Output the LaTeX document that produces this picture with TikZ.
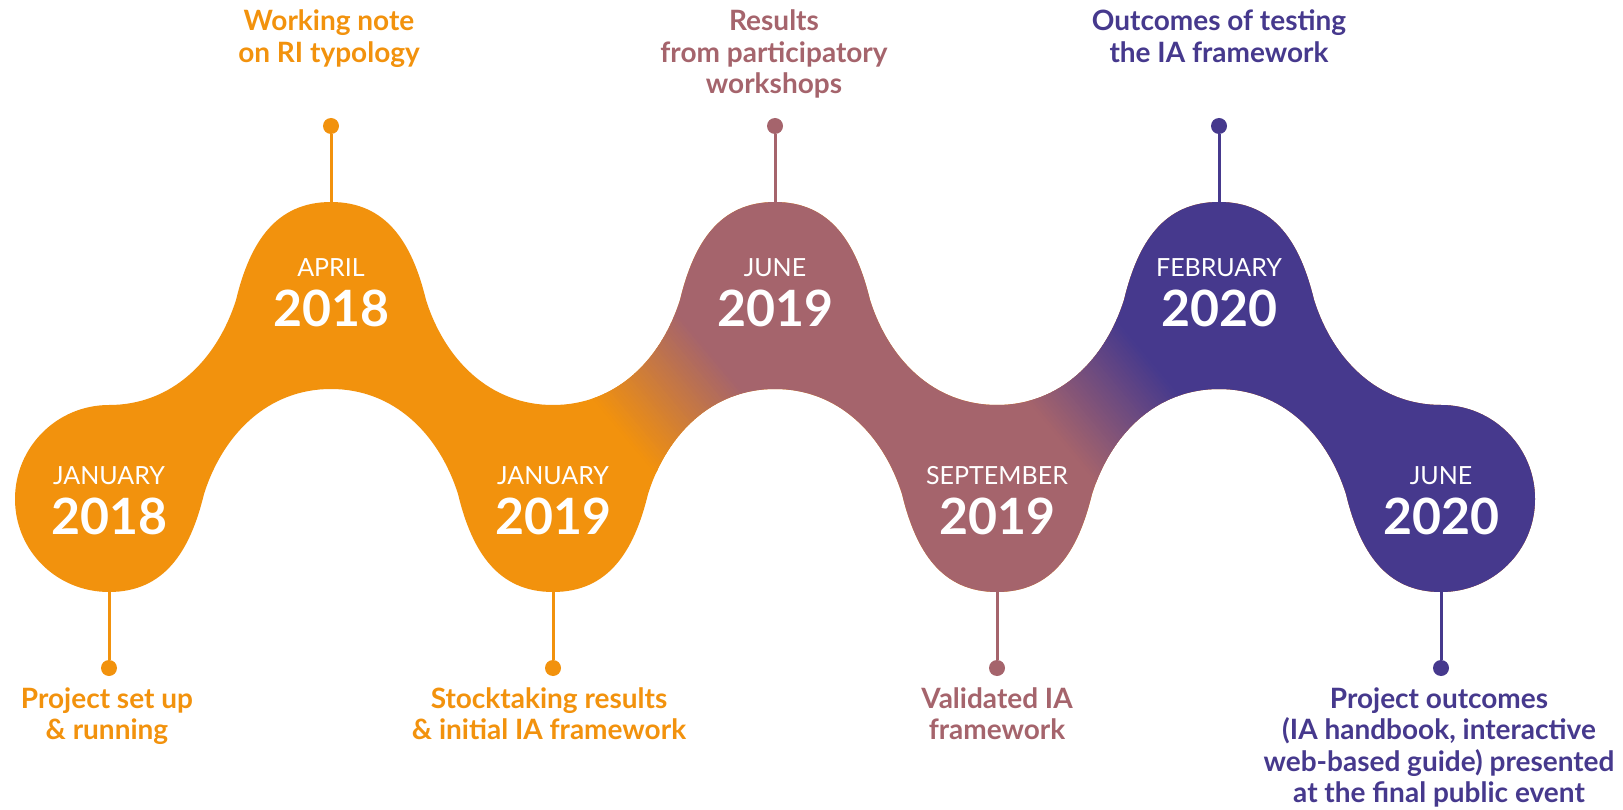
\documentclass[tikz,border=0pt]{standalone}
\usepackage{fontspec}
\setmainfont{Lato}
\definecolor{cO}{HTML}{F2920D}
\definecolor{cM}{HTML}{A5646C}
\definecolor{cI}{HTML}{46398D}
\begin{document}
\begin{tikzpicture}[x=1pt,y=-1pt,
  month/.style={anchor=base, text=white, inner sep=0pt, font=\fontsize{25}{30}\selectfont},
  year/.style={anchor=base, text=white, inner sep=0pt, font=\bfseries\fontsize{50}{60}\selectfont},
  lbl/.style={anchor=base, align=center, inner sep=0pt, font=\bfseries\fontsize{28}{31.5}\selectfont},
  dotnode/.style={circle, inner sep=0pt, minimum size=16pt},
  stemline/.style={line width=3pt}]
\useasboundingbox (0,0) rectangle (1623,810);

% dots and stems
\node[dotnode, fill=cO] (d1) at (109,668) {};
\node[dotnode, fill=cO] (d2) at (331,126) {};
\node[dotnode, fill=cO] (d3) at (553,668) {};
\node[dotnode, fill=cM] (d4) at (775,126) {};
\node[dotnode, fill=cM] (d5) at (997,668) {};
\node[dotnode, fill=cI] (d6) at (1219,126) {};
\node[dotnode, fill=cI] (d7) at (1441,668) {};
\coordinate (s1) at (109,580);
\coordinate (s2) at (331,215);
\coordinate (s3) at (553,580);
\coordinate (s4) at (775,215);
\coordinate (s5) at (997,580);
\coordinate (s6) at (1219,215);
\coordinate (s7) at (1441,580);
\draw[stemline, cO] (s1) -- (d1);
\draw[stemline, cO] (s2) -- (d2);
\draw[stemline, cO] (s3) -- (d3);
\draw[stemline, cM] (s4) -- (d4);
\draw[stemline, cM] (s5) -- (d5);
\draw[stemline, cI] (s6) -- (d6);
\draw[stemline, cI] (s7) -- (d7);

% ribbon
\begin{scope}
\clip (109,405)
 .. controls (172,405) and (217,360) .. (236,300)
 .. controls (250,242) and (276,202) .. (331,202)
 .. controls (386,202) and (412,242) .. (426,300)
 .. controls (445,360) and (490,405) .. (553,405)
 .. controls (616,405) and (661,360) .. (680,300)
 .. controls (694,242) and (720,202) .. (775,202)
 .. controls (830,202) and (856,242) .. (870,300)
 .. controls (889,360) and (934,405) .. (997,405)
 .. controls (1060,405) and (1105,360) .. (1124,300)
 .. controls (1138,242) and (1164,202) .. (1219,202)
 .. controls (1274,202) and (1300,242) .. (1314,300)
 .. controls (1333,360) and (1378,405) .. (1441,405)
 .. controls (1493,405) and (1535,447) .. (1535,499)
 .. controls (1535,551) and (1493,592) .. (1441,592)
 .. controls (1386,592) and (1360,552) .. (1346,494)
 .. controls (1327,434) and (1282,389) .. (1219,389)
 .. controls (1156,389) and (1111,434) .. (1092,494)
 .. controls (1078,552) and (1052,592) .. (997,592)
 .. controls (942,592) and (916,552) .. (902,494)
 .. controls (883,434) and (838,389) .. (775,389)
 .. controls (712,389) and (667,434) .. (648,494)
 .. controls (634,552) and (608,592) .. (553,592)
 .. controls (498,592) and (472,552) .. (458,494)
 .. controls (439,434) and (394,389) .. (331,389)
 .. controls (268,389) and (223,434) .. (204,494)
 .. controls (190,552) and (164,592) .. (109,592)
 .. controls (57,592) and (15,551) .. (15,499)
 .. controls (15,447) and (57,405) .. (109,405) -- cycle;
\fill[cO] (0,0) rectangle (1623,810);
\begin{scope}[shift={(668,395)},rotate=40]
  \foreach \i in {0,...,39} {
    \pgfmathsetmacro\p{2.5*\i+1.25}
    \fill[cM!\p!cO] ({-60+3*\i},-1000) rectangle ({-56.4+3*\i},1000);
  }
  \fill[cM] (60,-1000) rectangle (1000,1000);
\end{scope}
\begin{scope}[shift={(1103,397)},rotate=40]
  \foreach \i in {0,...,39} {
    \pgfmathsetmacro\p{2.5*\i+1.25}
    \fill[cI!\p!cM] ({-60+3*\i},-1000) rectangle ({-56.4+3*\i},1000);
  }
  \fill[cI] (60,-1000) rectangle (1000,1000);
\end{scope}
\end{scope}

% lobe texts
\node[month] (m1) at (109,484) {JANUARY};
\node[year]  (y1) at (109,534) {2018};
\node[month] (m2) at (331,277) {APRIL};
\node[year]  (y2) at (331,327) {2018};
\node[month] (m3) at (553,484) {JANUARY};
\node[year]  (y3) at (553,534) {2019};
\node[month] (m4) at (775,277) {JUNE};
\node[year]  (y4) at (775,327) {2019};
\node[month] (m5) at (997,484) {SEPTEMBER};
\node[year]  (y5) at (997,534) {2019};
\node[month] (m6) at (1219,277) {FEBRUARY};
\node[year]  (y6) at (1219,327) {2020};
\node[month] (m7) at (1441,484) {JUNE};
\node[year]  (y7) at (1441,534) {2020};

% labels (anchor base = last line)
\node[lbl, text=cO] (l1) at (107,739.5) {Project set up\\\& running};
\node[lbl, text=cO] (l2) at (329,62.5) {Working note\\on RI typology};
\node[lbl, text=cO] (l3) at (549,739.5) {Stocktaking results\\\& initial IA framework};
\node[lbl, text=cM] (l4) at (774,94) {Results\\from participatory\\workshops};
\node[lbl, text=cM] (l5) at (997,739.5) {Validated IA\\framework};
\node[lbl, text=cI] (l6) at (1219,62.5) {Outcomes of testing\\the IA framework};
\node[lbl, text=cI] (l7) at (1439,802.5) {Project outcomes\\(IA handbook, interactive\\web-based guide) presented\\at the final public event};
\end{tikzpicture}
\end{document}
